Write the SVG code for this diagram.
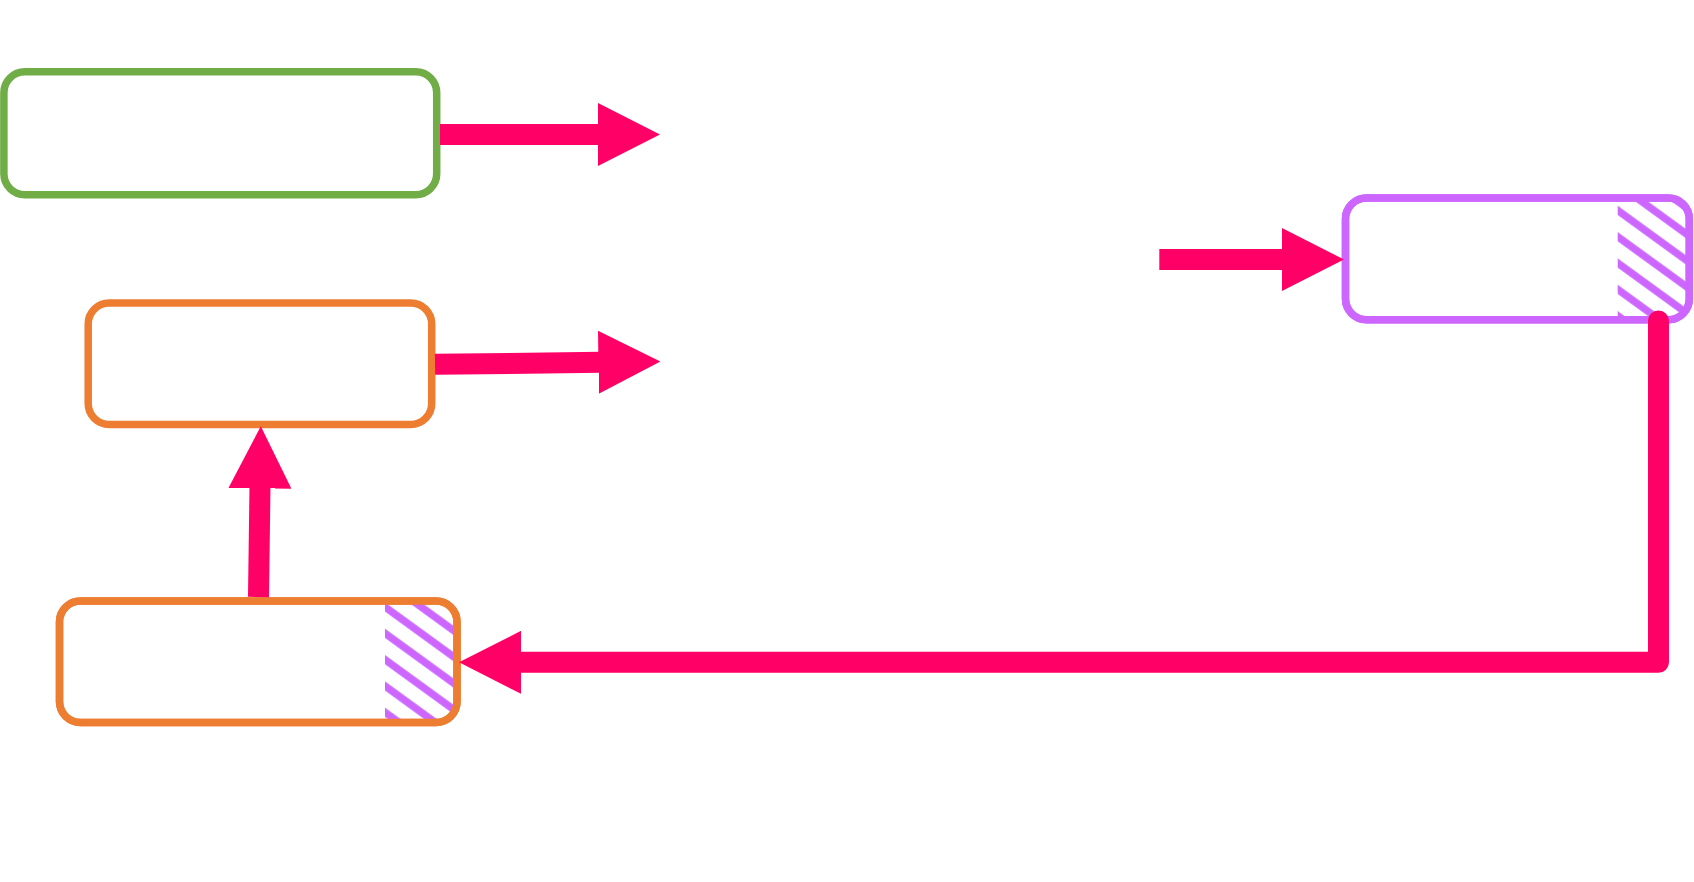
<svg xmlns="http://www.w3.org/2000/svg" width="1694" height="882" viewBox="0 0 1694 882">
  <style>
    .box { fill: #FFFFFF; stroke-width: 7.5; }
    .green { stroke: #70AD47; }
    .orange { stroke: #ED7D31; }
    .purple { stroke: #CC66FF; }
    .frame { fill: none; stroke-width: 7.5; }
    .conn { fill: none; stroke: #FF0066; stroke-width: 21; marker-end: url(#ah); }
  </style>
  <defs>
    <marker id="ah" markerUnits="userSpaceOnUse" markerWidth="62" markerHeight="63" viewBox="0 0 62 63" refX="3" refY="31.5" orient="auto">
      <path d="M0,0 L62,31.5 L0,63 Z" fill="#FF0066"/>
    </marker>
    <pattern id="hatchP" patternUnits="userSpaceOnUse" width="20" height="21.3" patternTransform="translate(1617.7,236.7) rotate(36)">
      <rect x="0" y="0" width="20" height="3.7" fill="#CC66FF"/>
      <rect x="0" y="17.6" width="20" height="3.7" fill="#CC66FF"/>
    </pattern>
    <pattern id="hatchB" patternUnits="userSpaceOnUse" width="20" height="21.3" patternTransform="translate(385,633.3) rotate(36)">
      <rect x="0" y="0" width="20" height="3.7" fill="#CC66FF"/>
      <rect x="0" y="17.6" width="20" height="3.7" fill="#CC66FF"/>
    </pattern>
    <clipPath id="clipP">
      <rect x="1345.5" y="198" width="343.8" height="121.7" rx="21"/>
    </clipPath>
    <clipPath id="clipB">
      <rect x="59.5" y="601" width="397.5" height="121.5" rx="21"/>
    </clipPath>
  </defs>
  <rect width="1694" height="882" fill="#FFFFFF"/>

  <g id="node-green">
    <rect class="box green" x="3.9" y="71.8" width="432.8" height="122.9" rx="21"/>
  </g>
  <g id="node-orange-top">
    <rect class="box orange" x="88.2" y="303" width="343.5" height="121.5" rx="21"/>
  </g>
  <g id="node-orange-bottom">
    <rect class="box orange" x="59.5" y="601" width="397.5" height="121.5" rx="21"/>
    <rect x="385" y="597" width="76" height="130" fill="url(#hatchB)" clip-path="url(#clipB)"/>
    <rect class="frame orange" x="59.5" y="601" width="397.5" height="121.5" rx="21"/>
  </g>
  <g id="node-purple">
    <rect class="box purple" x="1345.5" y="198" width="343.8" height="121.7" rx="21"/>
    <rect x="1617.7" y="194" width="76" height="130" fill="url(#hatchP)" clip-path="url(#clipP)"/>
    <rect class="frame purple" x="1345.5" y="198" width="343.8" height="121.7" rx="21"/>
  </g>

  <g id="connectors">
    <line class="conn" x1="440" y1="134.5" x2="601" y2="134.5"/>
    <line class="conn" x1="435" y1="364.3" x2="601.4" y2="362.3"/>
    <line class="conn" x1="258.5" y1="597" x2="260" y2="485.3"/>
    <line class="conn" x1="1159.3" y1="259.5" x2="1285" y2="259.5"/>
    <path class="conn" d="M1658.5,321 V662.3 H518" stroke-linecap="round" stroke-linejoin="round"/>
  </g>
</svg>
